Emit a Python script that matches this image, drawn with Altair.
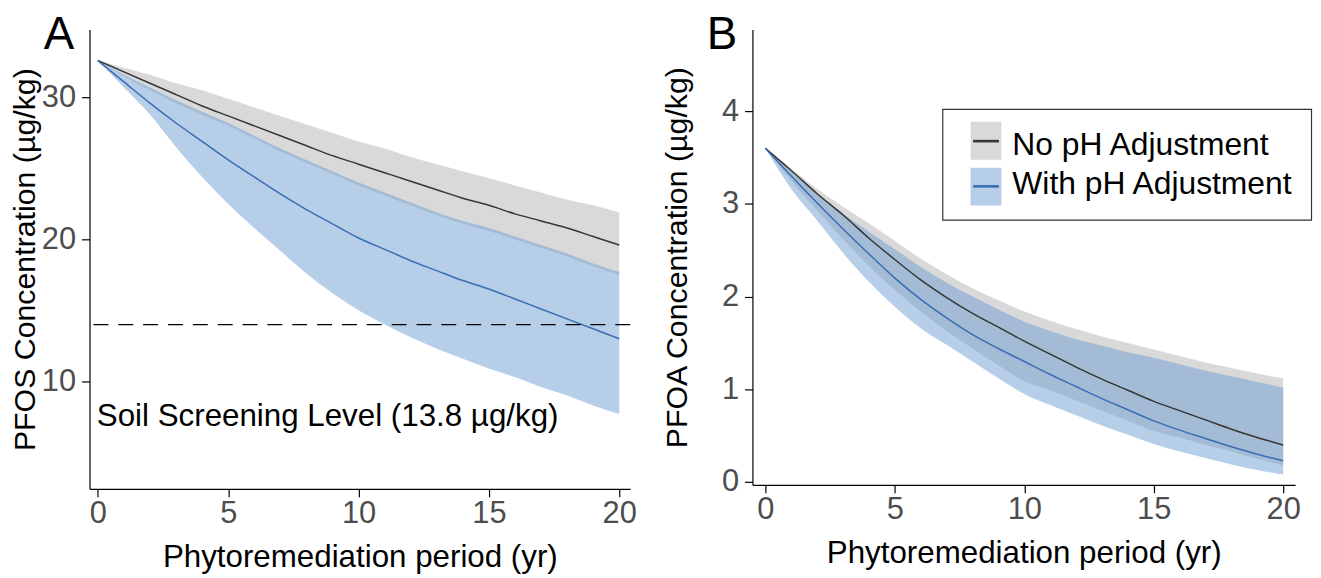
import altair as alt
import pandas as pd

# ---------------- data ----------------
years = list(range(21))
series_names = ["No pH Adjustment", "With pH Adjustment"]

# Panel A: PFOS (µg/kg)
A_no_mid = [32.6, 31.8, 31.0, 30.2, 29.4, 28.7, 28.0, 27.3, 26.6, 25.9, 25.3,
            24.7, 24.1, 23.5, 22.9, 22.4, 21.8, 21.3, 20.8, 20.2, 19.6]
A_no_hi = [32.6, 32.1, 31.6, 31.0, 30.5, 29.9, 29.3, 28.7, 28.1, 27.5, 26.9,
           26.4, 25.8, 25.3, 24.8, 24.3, 23.8, 23.3, 22.8, 22.4, 21.9]
A_no_lo = [32.6, 31.5, 30.5, 29.6, 28.8, 28.0, 27.1, 26.2, 25.4, 24.6, 23.8,
           23.1, 22.4, 21.7, 21.1, 20.6, 20.0, 19.4, 18.8, 18.1, 17.5]
A_ph_mid = [32.6, 31.1, 29.6, 28.2, 26.9, 25.6, 24.4, 23.2, 22.1, 21.1, 20.1,
            19.3, 18.5, 17.8, 17.1, 16.5, 15.8, 15.1, 14.4, 13.7, 13.0]
A_ph_hi = [32.6, 31.6, 30.7, 29.8, 29.0, 28.2, 27.3, 26.4, 25.6, 24.8, 24.0,
           23.3, 22.6, 21.9, 21.3, 20.8, 20.2, 19.6, 19.0, 18.3, 17.7]
A_ph_lo = [32.6, 30.7, 28.8, 26.5, 24.4, 22.5, 20.8, 19.2, 17.6, 16.2, 15.0,
           14.0, 13.1, 12.3, 11.6, 10.9, 10.3, 9.6, 9.0, 8.3, 7.7]

# Panel B: PFOA (µg/kg)
B_no_mid = [3.60, 3.36, 3.11, 2.88, 2.63, 2.40, 2.18, 1.99, 1.82, 1.67, 1.52,
            1.38, 1.24, 1.11, 0.99, 0.87, 0.77, 0.67, 0.57, 0.48, 0.40]
B_no_hi = [3.60, 3.38, 3.16, 2.97, 2.79, 2.60, 2.41, 2.24, 2.09, 1.96, 1.84,
           1.74, 1.65, 1.57, 1.50, 1.43, 1.36, 1.29, 1.23, 1.17, 1.12]
B_no_lo = [3.60, 3.25, 2.93, 2.62, 2.33, 2.07, 1.84, 1.63, 1.44, 1.26, 1.09,
           0.99, 0.88, 0.77, 0.66, 0.55, 0.48, 0.40, 0.33, 0.25, 0.18]
B_ph_mid = [3.60, 3.30, 3.01, 2.73, 2.46, 2.20, 1.97, 1.77, 1.59, 1.44, 1.30,
            1.16, 1.03, 0.90, 0.78, 0.66, 0.56, 0.47, 0.38, 0.30, 0.23]
B_ph_hi = [3.60, 3.35, 3.11, 2.90, 2.70, 2.51, 2.32, 2.15, 2.00, 1.86, 1.73,
           1.63, 1.54, 1.47, 1.40, 1.34, 1.27, 1.20, 1.14, 1.08, 1.02]
B_ph_lo = [3.60, 3.16, 2.82, 2.47, 2.16, 1.89, 1.66, 1.48, 1.30, 1.12, 0.95,
           0.83, 0.72, 0.61, 0.51, 0.41, 0.33, 0.26, 0.19, 0.13, 0.08]

x_ticks = [0, 5, 10, 15, 20]
A_y_ticks = [10, 20, 30]
B_y_ticks = [0, 1, 2, 3, 4]

ssl_value = 14.0
ssl_label = "Soil Screening Level (13.8 µg/kg)"
x_title = "Phytoremediation period (yr)"
A_y_title = "PFOS Concentration (µg/kg)"
B_y_title = "PFOA Concentration (µg/kg)"

# ---------------- styling ----------------
FONT = "Liberation Sans"
GRAY_BAND = "#d9d9d9"
BLUE_BAND = "#6e9dd0"
GRAY_LINE = "#363636"
BLUE_LINE = "#3a6db4"
TICK_FS = 31
XTITLE_FS = 31.5
YTITLE_FS = 30.5
TEXT_FS = 31.5
LEG_FS = 32


def panel_df(no_lo, no_mid, no_hi, ph_lo, ph_mid, ph_hi):
    rows = []
    for i, yr in enumerate(years):
        rows.append({"year": yr, "series": series_names[0],
                     "lo": no_lo[i], "mid": no_mid[i], "hi": no_hi[i]})
        rows.append({"year": yr, "series": series_names[1],
                     "lo": ph_lo[i], "mid": ph_mid[i], "hi": ph_hi[i]})
    return pd.DataFrame(rows)


def make_panel(df, xdom, ydom, yticks, ytitle, ytpad, letter):
    xs = alt.X("year:Q",
               scale=alt.Scale(domain=xdom, nice=False, zero=False),
               axis=alt.Axis(values=x_ticks, title=x_title, labelPadding=2,
                             titlePadding=13, labelFlush=False, format="d",
                             titleFontSize=XTITLE_FS))

    def ys(field):
        return alt.Y(field,
                     scale=alt.Scale(domain=ydom, nice=False, zero=False),
                     axis=alt.Axis(values=yticks, title=ytitle, labelPadding=6,
                                   titlePadding=ytpad, format="d",
                                   titleFontSize=YTITLE_FS))

    base = alt.Chart(df)
    gray = base.transform_filter(alt.datum.series == series_names[0])
    blue = base.transform_filter(alt.datum.series == series_names[1])

    gray_band = gray.mark_area(color=GRAY_BAND, interpolate="monotone").encode(
        x=xs, y=ys("lo:Q"), y2="hi:Q")
    blue_band = blue.mark_area(color=BLUE_BAND, opacity=0.5,
                               interpolate="monotone").encode(
        x=xs, y=ys("lo:Q"), y2="hi:Q")
    gray_line = gray.mark_line(color=GRAY_LINE, strokeWidth=1.5,
                               interpolate="monotone").encode(x=xs, y=ys("mid:Q"))
    blue_line = blue.mark_line(color=BLUE_LINE, strokeWidth=1.5,
                               interpolate="monotone").encode(x=xs, y=ys("mid:Q"))

    label = alt.Chart(alt.Data(values=[{"t": letter}])).mark_text(
        align="left", baseline="alphabetic", fontSize=46, font=FONT,
        color="black").encode(x=alt.value(-46), y=alt.value(20), text="t:N")

    layers = [gray_band, blue_band, gray_line, blue_line, label]
    return layers, xs, ys


# ---------------- panel A ----------------
dfA = panel_df(A_no_lo, A_no_mid, A_no_hi, A_ph_lo, A_ph_mid, A_ph_hi)
layersA, xsA, ysA = make_panel(dfA, [-0.32, 20.42], [2.43, 34.78], A_y_ticks,
                               A_y_title, 1, "A")
ssl_rule = alt.Chart(alt.Data(values=[{"y": ssl_value}])).mark_rule(
    color="black", strokeDash=[15, 10], strokeWidth=1.2).encode(y=ysA("y:Q"))
ssl_text = alt.Chart(alt.Data(values=[{"t": ssl_label}])).mark_text(
    align="left", baseline="alphabetic", fontSize=TEXT_FS, font=FONT,
    color="black").encode(x=alt.datum(-0.04), y=alt.datum(6.85), text="t:N")
panelA = alt.layer(*layersA[:4], ssl_rule, ssl_text, layersA[4]).properties(
    width=544, height=462)

# ---------------- panel B ----------------
dfB = panel_df(B_no_lo, B_no_mid, B_no_hi, B_ph_lo, B_ph_mid, B_ph_hi)
layersB, xsB, ysB = make_panel(dfB, [-0.5, 20.46], [-0.03, 4.88], B_y_ticks,
                               B_y_title, 29, "B")

# legend (drawn inside panel B)
one = alt.Data(values=[{"k": 0}])
leg_box = alt.Chart(one).mark_rect(fill="white", stroke="#333333",
                                   strokeWidth=1.2).encode(
    x=alt.value(191.5), x2=alt.value(562.5), y=alt.value(80.3), y2=alt.value(191.7))
leg_layers = [leg_box]
leg_items = [
    (series_names[0], "#d9d9d9", GRAY_LINE, 92.7, 131.0, 112.2, 126.0),
    (series_names[1], "#b6cee7", BLUE_LINE, 139.0, 177.0, 157.7, 165.3),
]
for name, fill, line, y0, y1, ym, ytxt in leg_items:
    leg_layers.append(alt.Chart(one).mark_rect(fill=fill).encode(
        x=alt.value(219.5), x2=alt.value(250.5), y=alt.value(y0), y2=alt.value(y1)))
    leg_layers.append(alt.Chart(one).mark_rule(color=line, strokeWidth=2.6).encode(
        x=alt.value(222), x2=alt.value(248), y=alt.value(ym)))
    leg_layers.append(alt.Chart(alt.Data(values=[{"t": name}])).mark_text(
        align="left", baseline="alphabetic", fontSize=LEG_FS, font=FONT,
        color="black").encode(x=alt.value(261.5), y=alt.value(ytxt), text="t:N"))

panelB = alt.layer(*layersB, *leg_layers).properties(width=546, height=458)

chart = alt.hconcat(panelA, panelB, spacing=25).properties(
    padding={"left": 2, "top": 2, "right": 0, "bottom": 0}
).configure(font=FONT).configure_view(stroke="transparent").configure_axis(
    grid=False, domainColor="black", domainWidth=1.2, tickColor="black",
    tickWidth=1.2, tickSize=8, labelFontSize=TICK_FS, labelColor="#4d4d4d",
    labelFont=FONT, titleFont=FONT, titleFontWeight="normal",
    titleColor="black", labelOverlap=False)

chart.save("out.html", embed_options={"renderer": "svg", "actions": False})
